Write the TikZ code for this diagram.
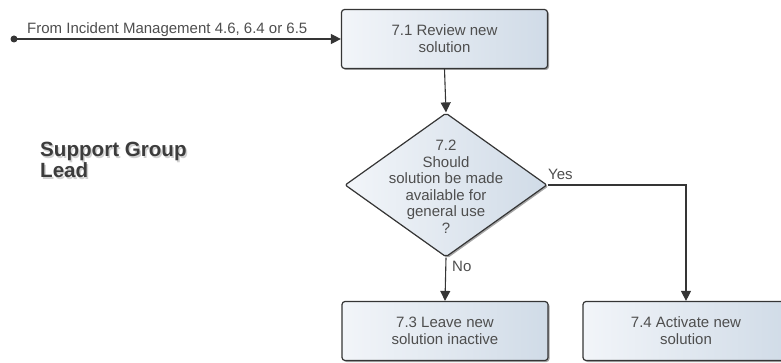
\documentclass[tikz,border=0pt]{standalone}
\usepackage{fontspec}
\setmainfont{Liberation Sans}
\usetikzlibrary{arrows.meta,shapes.geometric,shadows}

\definecolor{txtgray}{HTML}{4E4E4E}
\definecolor{linegray}{HTML}{353535}
\definecolor{fillA}{HTML}{F2F5F9}
\definecolor{fillB}{HTML}{D0DBE7}
\definecolor{roleink}{HTML}{3C3C3C}

\tikzset{
  every node/.style={text=txtgray, font=\fontsize{15}{17}\selectfont},
  task/.style={draw=linegray, line width=1.2pt, rounded corners=3pt,
    left color=fillA, right color=fillB,
    minimum width=206pt, minimum height=59pt, align=center, inner sep=0pt,
    drop shadow={shadow xshift=1.5pt, shadow yshift=-1.5pt, opacity=0.35, fill=black}},
  decision/.style={diamond, draw=linegray, line width=1.2pt, rounded corners=2pt,
    left color=fillA, right color=fillB,
    minimum width=202pt, minimum height=144pt, inner sep=0pt,
    drop shadow={shadow xshift=1.5pt, shadow yshift=-1.5pt, opacity=0.35, fill=black}},
  flow/.style={draw=linegray, line width=1.1pt,
    -{Triangle[length=10pt,width=10pt]}},
  plain/.style={inner sep=0pt, anchor=base west},
  role/.style={inner sep=0pt, anchor=base west, align=left,
    font=\fontsize{20.6}{21}\selectfont\bfseries},
}

\begin{document}
\begin{tikzpicture}[x=1pt,y=-1pt]
  \useasboundingbox (0,0) rectangle (781,363);

  % swimlane role
  \node[role, text=black!30, opacity=0.6] (roleshadow) at (41.5,179.5) {Support Group\\Lead};
  \node[role, text=roleink] (role) at (40,178) {Support Group\\Lead};

  % process steps
  \node[task] (b71) at (444.5,39) {7.1 Review new\\solution};
  \node[decision] (d72) at (446,185) {};
  \node[align=center, inner sep=0pt, font=\fontsize{15}{16.5}\selectfont]
    (d72text) at (446,187) {7.2\\Should\\solution be made\\available for\\general use\\?};
  \node[task] (b73) at (445,331) {7.3 Leave new\\solution inactive};
  \node[task] (b74) at (686,331) {7.4 Activate new\\solution};

  % incoming trigger
  \coordinate (src) at (14,39);
  \fill[linegray] (src) circle (3.5pt);
  \draw[flow] (src) -- (b71.west);
  \node[plain] (srclabel) at (27,34) {From Incident Management 4.6, 6.4 or 6.5};

  % connectors
  \draw[flow] (b71.south) -- (d72.north);
  \draw[flow] (d72.east) -| (b74.north);
  \draw[flow] (d72.south) -- (b73.north);
  \node[plain] (yes) at (548,180) {Yes};
  \node[plain] (no) at (452,271) {No};
\end{tikzpicture}
\end{document}
